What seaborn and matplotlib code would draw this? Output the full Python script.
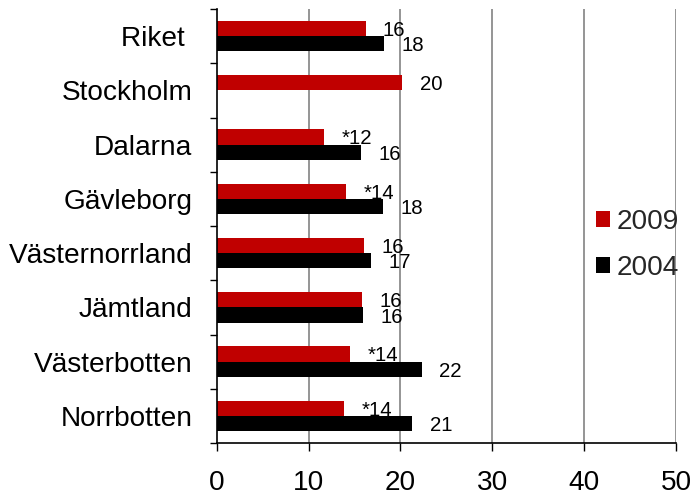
import numpy as np
import pandas as pd
import matplotlib
matplotlib.use("Agg")
import matplotlib.pyplot as plt
import seaborn as sns

categories = ["Riket ", "Stockholm", "Dalarna", "Gävleborg", "Västernorrland",
              "Jämtland", "Västerbotten", "Norrbotten"]
years = ["2009", "2004"]
values_2009 = [16.2, 20.2, 11.7, 14.1, 16.0, 15.8, 14.5, 13.9]
values_2004 = [18.2, np.nan, 15.7, 18.1, 16.85, 15.9, 22.3, 21.3]
labels_2009 = ["16", "20", "*12", "*14", "16", "16", "*14", "*14"]
labels_2004 = ["18", "", "16", "18", "17", "16", "22", "21"]
xticks = [0, 10, 20, 30, 40, 50]

sns.set_theme(style="white")
plt.rcParams["font.family"] = ["Liberation Sans", "DejaVu Sans"]

df = pd.DataFrame({
    "Län": categories * 2,
    "År": ["2009"] * len(categories) + ["2004"] * len(categories),
    "Värde": values_2009 + values_2004,
})

fig = plt.figure(figsize=(6.92, 4.97), dpi=100)
ax = fig.add_axes([216.7 / 692, 1 - 443 / 497, (676 - 216.7) / 692, (443 - 9) / 497])

sns.barplot(data=df, y="Län", x="Värde", hue="År", order=categories,
            hue_order=years, palette={"2009": "#C00000", "2004": "#000000"},
            orient="h", width=0.565, ax=ax, errorbar=None, saturation=1,
            linewidth=0)

# value labels
lab_map = {"2009": [l for v, l in zip(values_2009, labels_2009) if not np.isnan(v)],
           "2004": [l for v, l in zip(values_2004, labels_2004) if not np.isnan(v)]}
for cont, yr in zip(ax.containers, years):
    texts = ax.bar_label(cont, labels=lab_map[yr], padding=12.5, fontsize=14.7,
                         color="black")
    for t in texts:
        t.set_va("center_baseline")

ax.set_xlim(0, 50)
ax.set_ylim(len(categories) - 0.5, -0.5)
ax.set_xticks(xticks)
ax.set_xticklabels([str(t) for t in xticks])
ax.set_xlabel("")
ax.set_ylabel("")

# gridlines
ax.grid(False)
for t in xticks[1:]:
    ax.axvline(t, color="#8c8c8c", lw=1.3, zorder=0)

# category boundary ticks
ax.set_yticks(np.arange(-0.5, len(categories) + 0.5, 1), minor=True)
ax.tick_params(axis="y", which="major", length=0, pad=17.5, labelsize=20.2, colors="black")
ax.tick_params(axis="y", which="minor", length=5, width=1, color="black", left=True)
ax.tick_params(axis="x", which="major", length=5.5, width=1, color="black", bottom=True,
               pad=14, labelsize=20.2, labelcolor="black")

for s in ["top", "right"]:
    ax.spines[s].set_visible(False)
for s in ["left", "bottom"]:
    ax.spines[s].set_color("black")
    ax.spines[s].set_linewidth(1.2)
ax.set_axisbelow(True)

handles, labs = ax.get_legend_handles_labels()
ax.legend(handles, labs, loc="center left", bbox_to_anchor=(596 / 692, 1 - 245 / 497),
          bbox_transform=fig.transFigure, frameon=False, fontsize=20.2,
          handlelength=0.5, handleheight=0.5, handletextpad=0.25,
          labelspacing=0.72, borderpad=0, borderaxespad=0)

fig.savefig("out.png", dpi=100)
